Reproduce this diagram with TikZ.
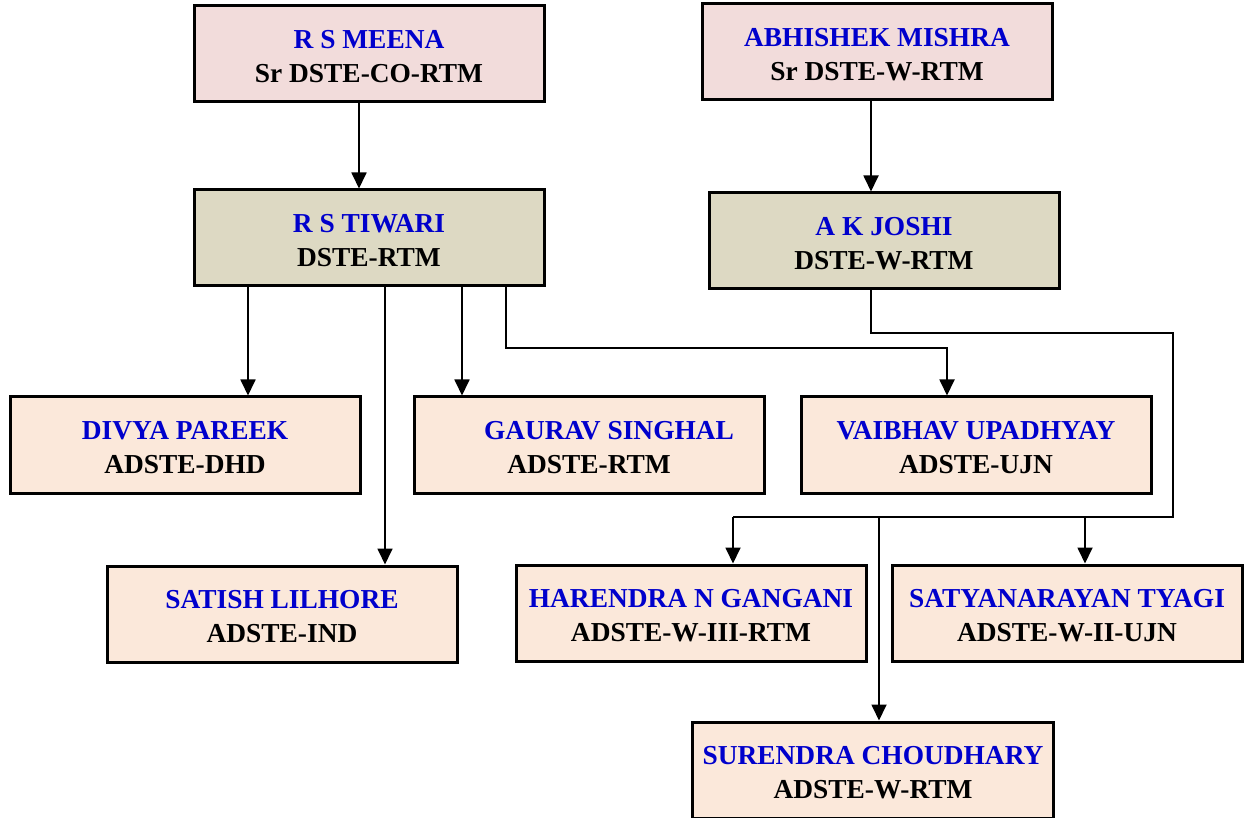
\documentclass[tikz,border=0pt]{standalone}
\usepackage{fontspec}
\setmainfont{Liberation Serif}
\usetikzlibrary{arrows.meta}

\definecolor{namecol}{RGB}{0,0,204}
\definecolor{srfill}{RGB}{242,220,219}
\definecolor{dfill}{RGB}{221,217,195}
\definecolor{afill}{RGB}{251,232,218}
\newcommand{\post}[2]{\rule{0pt}{24pt}\textcolor{namecol}{#1}\\#2}

\tikzset{
  postbox/.style={draw, line width=3pt, minimum width=350pt, minimum height=96pt,
    inner sep=0pt, align=center, font=\bfseries\fontsize{27.4pt}{34pt}\selectfont},
  link/.style={line width=1.8pt},
  arr/.style={link, -{Triangle[width=15pt,length=16pt]}}
}

\begin{document}
\begin{tikzpicture}[x=1pt, y=-1pt]
\useasboundingbox (0,0) rectangle (1251,818);

% senior and divisional officers
\node[postbox, fill=srfill] (meena) at (369,54) {\post{R S MEENA}{Sr DSTE-CO-RTM}};
\node[postbox, fill=srfill] (mishra) at (877,52) {\post{ABHISHEK MISHRA}{Sr DSTE-W-RTM}};
\node[postbox, fill=dfill] (tiwari) at (369,238) {\post{R S TIWARI}{DSTE-RTM}};
\node[postbox, fill=dfill] (joshi) at (884,241) {\post{A K JOSHI}{DSTE-W-RTM}};

% assistant officers
\node[postbox, fill=afill] (divya) at (185,445) {\post{DIVYA PAREEK}{ADSTE-DHD}};
\node[postbox, fill=afill] (gaurav) at (589,445) {\post{\hspace*{40pt}GAURAV SINGHAL}{ADSTE-RTM}};
\node[postbox, fill=afill] (vaibhav) at (976,445) {\post{VAIBHAV UPADHYAY}{ADSTE-UJN}};
\node[postbox, fill=afill] (satish) at (282,614) {\post{SATISH LILHORE}{ADSTE-IND}};
\node[postbox, fill=afill] (harendra) at (691,613) {\post{HARENDRA N GANGANI}{ADSTE-W-III-RTM}};
\node[postbox, fill=afill] (tyagi) at (1067,613) {\post{SATYANARAYAN TYAGI}{ADSTE-W-II-UJN}};
\node[postbox, fill=afill, minimum width=361pt] (surendra) at (873,770) {\post{SURENDRA CHOUDHARY}{ADSTE-W-RTM}};

\draw[arr] (359,0 |- meena.south) -- (359,0 |- tiwari.north);
\draw[arr] (871,0 |- mishra.south) -- (871,0 |- joshi.north);

\draw[arr] (248,0 |- tiwari.south) -- (248,0 |- divya.north);
\draw[arr] (385,0 |- tiwari.south) -- (385,0 |- satish.north);
\draw[arr] (462,0 |- tiwari.south) -- (462,0 |- gaurav.north);
\draw[arr] (506,0 |- tiwari.south) |- (947,348) -- (947,0 |- vaibhav.north);

\coordinate (wbus) at (733,517);
\draw[link] (871,0 |- joshi.south) |- (1173,333) |- (wbus);
\draw[arr] (wbus) -- (733,0 |- harendra.north);
\draw[arr] (879,517) -- (879,0 |- surendra.north);
\draw[arr] (1085,517) -- (1085,0 |- tyagi.north);

\end{tikzpicture}
\end{document}
